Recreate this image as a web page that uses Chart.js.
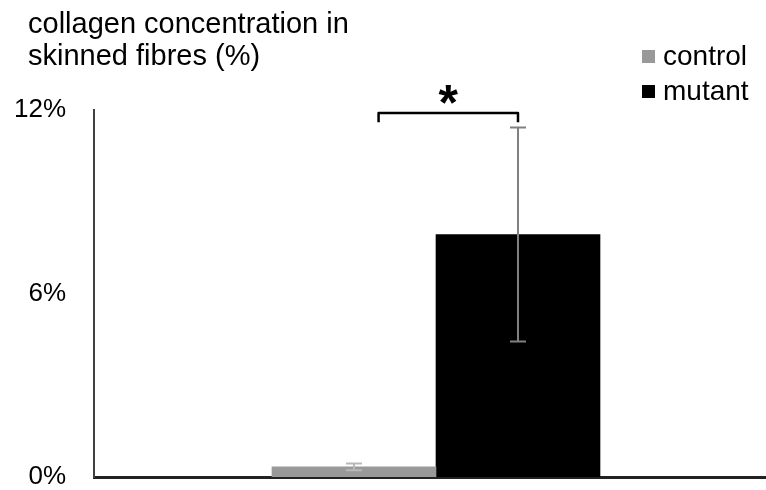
<!DOCTYPE html>
<html>
<head>
<meta charset="utf-8">
<script src="https://cdn.jsdelivr.net/npm/chart.js@4.4.0/dist/chart.umd.min.js"></script>
<style>
  html, body { margin: 0; padding: 0; background: #fff; }
  #wrap { width: 766px; height: 490px; }
</style>
</head>
<body>
<div id="wrap"><canvas id="myChart" width="766" height="490"></canvas></div>
<script>
// data
const seriesNames = ['control', 'mutant'];
const seriesColors = ['#999999', '#000000'];
const meanValues = [0.33, 7.93];      // % collagen
const errorValues = [0.11, 3.5];      // +/- error
const errorColors = ['#b8b8b8', '#808080'];
const yTicks = [0, 6, 12];
const titleLines = ['collagen concentration in', 'skinned fibres (%)'];
const sigLabel = '*';

const FONT = '"Liberation Sans", Arial, sans-serif';

// error bars drawn through the chart's own scales
const errorBarPlugin = {
    id: 'errorBars',
    afterDatasetsDraw(chart) {
        const ctx = chart.ctx;
        const yScale = chart.scales.y;
        chart.data.datasets.forEach((ds, i) => {
            const bar = chart.getDatasetMeta(i).data[0];
            const top = yScale.getPixelForValue(meanValues[i] + errorValues[i]);
            const bottom = yScale.getPixelForValue(meanValues[i] - errorValues[i]);
            ctx.save();
            ctx.strokeStyle = errorColors[i];
            ctx.lineWidth = 2;
            ctx.beginPath();
            ctx.moveTo(bar.x, top);
            ctx.lineTo(bar.x, bottom);
            ctx.moveTo(bar.x - 8, top);
            ctx.lineTo(bar.x + 8, top);
            ctx.moveTo(bar.x - 8, bottom);
            ctx.lineTo(bar.x + 8, bottom);
            ctx.stroke();
            ctx.restore();
        });
    }
};

// title, legend and significance bracket
const extrasPlugin = {
    id: 'extras',
    afterDraw(chart) {
        const ctx = chart.ctx;
        const xs = chart.scales.x;
        const ys = chart.scales.y;
        ctx.save();
        ctx.fillStyle = '#000';
        ctx.font = '29px ' + FONT;
        ctx.textBaseline = 'alphabetic';
        ctx.fillText(titleLines[0], 28, 33);
        ctx.fillText(titleLines[1], 28, 65);

        // legend
        ctx.font = '28px ' + FONT;
        ctx.textBaseline = 'middle';
        seriesNames.forEach((name, i) => {
            const y = 57 + i * 35;
            ctx.fillStyle = seriesColors[i];
            ctx.fillRect(642, y - 7, 13, 13);
            ctx.fillStyle = '#000';
            ctx.fillText(name, 663, y);
        });

        // bracket from the control side to the mutant error bar
        const x1 = xs.getPixelForValue(1.15);
        const x2 = xs.getPixelForValue(2);
        const yb = ys.getPixelForValue(11.9);
        const yd = ys.getPixelForValue(11.6);
        ctx.strokeStyle = '#000';
        ctx.lineWidth = 2.5;
        ctx.lineJoin = 'round';
        ctx.beginPath();
        ctx.moveTo(x1, yd);
        ctx.lineTo(x1, yb);
        ctx.lineTo(x2, yb);
        ctx.lineTo(x2, yd);
        ctx.stroke();
        ctx.font = 'bold 50px ' + FONT;
        ctx.textAlign = 'center';
        ctx.textBaseline = 'middle';
        ctx.fillText(sigLabel, (x1 + x2) / 2, 106);
        ctx.restore();
    }
};

const ctx = document.getElementById('myChart').getContext('2d');

const chart = new Chart(ctx, {
    type: 'bar',
    data: {
        datasets: seriesNames.map((name, i) => ({
            label: name,
            data: [{ x: i + 1, y: meanValues[i] }],
            backgroundColor: seriesColors[i],
            borderWidth: 0,
            grouped: false,
            barThickness: 164,
        })),
    },
    options: {
        responsive: false,
        animation: false,
        layout: { padding: { top: 110, left: 13, right: 0, bottom: 13 } },
        plugins: {
            legend: { display: false },
            tooltip: { enabled: false },
        },
        scales: {
            x: {
                type: 'linear',
                offset: false,
                min: -0.585,
                max: 3.512,
                ticks: { display: false, stepSize: 1 },
                grid: { display: false, drawTicks: false, offset: false },
                border: { display: true, color: '#222', width: 3 },
                afterFit: (axis) => { axis.height = 0; },
            },
            y: {
                min: 0,
                max: 12,
                afterBuildTicks: (axis) => { axis.ticks = yTicks.map((v) => ({ value: v })); },
                ticks: {
                    padding: 28,
                    color: '#000',
                    font: { family: FONT, size: 26 },
                    callback: (v) => v + '%',
                },
                grid: { display: false, drawTicks: false },
                border: { display: true, color: '#404040', width: 2 },
                afterFit: (axis) => {
                    axis.width = 81;
                    axis.paddingTop = 0;
                    axis.paddingBottom = 0;
                },
            },
        },
    },
    plugins: [errorBarPlugin, extrasPlugin],
});
</script>
</body>
</html>
